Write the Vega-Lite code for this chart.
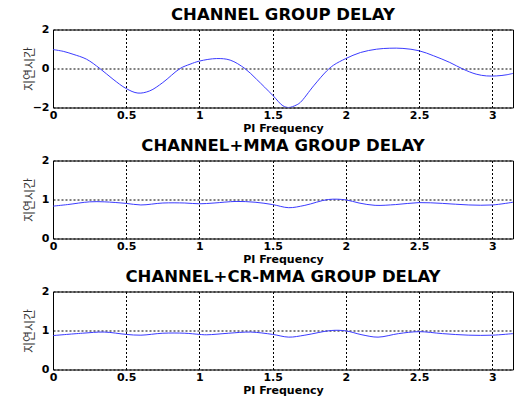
{
  "$schema": "https://vega.github.io/schema/vega-lite/v6.json",
  "background": "white",
  "padding": {"left": 22, "top": 5.5, "right": 0, "bottom": 0},
  "bounds": "flush",
  "spacing": 53,
  "datasets": {
    "ch": [
      {"x": 0, "y": 0.97}, {"x": 0.07, "y": 0.88}, {"x": 0.137, "y": 0.73}, {"x": 0.228, "y": 0.48},
      {"x": 0.32, "y": 0.0}, {"x": 0.41, "y": -0.55}, {"x": 0.5, "y": -1.03}, {"x": 0.58, "y": -1.26},
      {"x": 0.66, "y": -1.15}, {"x": 0.75, "y": -0.72}, {"x": 0.868, "y": 0.0}, {"x": 0.936, "y": 0.22},
      {"x": 1.0, "y": 0.38}, {"x": 1.118, "y": 0.51}, {"x": 1.21, "y": 0.43}, {"x": 1.31, "y": 0.0},
      {"x": 1.39, "y": -0.55}, {"x": 1.5, "y": -1.37}, {"x": 1.57, "y": -1.91}, {"x": 1.61, "y": -2.0},
      {"x": 1.66, "y": -1.88}, {"x": 1.689, "y": -1.74}, {"x": 1.78, "y": -0.89}, {"x": 1.87, "y": -0.12},
      {"x": 1.916, "y": 0.17}, {"x": 2.0, "y": 0.51}, {"x": 2.1, "y": 0.82}, {"x": 2.21, "y": 0.99},
      {"x": 2.3, "y": 1.04}, {"x": 2.39, "y": 1.03}, {"x": 2.5, "y": 0.91}, {"x": 2.6, "y": 0.65},
      {"x": 2.71, "y": 0.31}, {"x": 2.8, "y": -0.03}, {"x": 2.89, "y": -0.29}, {"x": 2.96, "y": -0.38},
      {"x": 3.03, "y": -0.38}, {"x": 3.1, "y": -0.32}, {"x": 3.1416, "y": -0.25}
    ],
    "mma": [
      {"x": 0, "y": 0.83}, {"x": 0.1, "y": 0.87}, {"x": 0.25, "y": 0.94}, {"x": 0.35, "y": 0.94},
      {"x": 0.5, "y": 0.9}, {"x": 0.6, "y": 0.86}, {"x": 0.75, "y": 0.91}, {"x": 0.9, "y": 0.91},
      {"x": 1.0, "y": 0.89}, {"x": 1.1, "y": 0.91}, {"x": 1.25, "y": 0.95}, {"x": 1.38, "y": 0.93},
      {"x": 1.5, "y": 0.87}, {"x": 1.61, "y": 0.79}, {"x": 1.72, "y": 0.85}, {"x": 1.88, "y": 1.0},
      {"x": 2.0, "y": 0.99}, {"x": 2.09, "y": 0.91}, {"x": 2.2, "y": 0.85}, {"x": 2.34, "y": 0.87},
      {"x": 2.5, "y": 0.92}, {"x": 2.66, "y": 0.9}, {"x": 2.84, "y": 0.86}, {"x": 3.0, "y": 0.86},
      {"x": 3.1416, "y": 0.93}
    ],
    "cr": [
      {"x": 0, "y": 0.87}, {"x": 0.2, "y": 0.93}, {"x": 0.35, "y": 0.96}, {"x": 0.5, "y": 0.9},
      {"x": 0.6, "y": 0.88}, {"x": 0.75, "y": 0.93}, {"x": 0.9, "y": 0.93}, {"x": 1.0, "y": 0.9},
      {"x": 1.05, "y": 0.89}, {"x": 1.2, "y": 0.93}, {"x": 1.35, "y": 0.96}, {"x": 1.5, "y": 0.9},
      {"x": 1.61, "y": 0.83}, {"x": 1.72, "y": 0.88}, {"x": 1.9, "y": 1.0}, {"x": 2.0, "y": 0.99},
      {"x": 2.11, "y": 0.89}, {"x": 2.22, "y": 0.83}, {"x": 2.36, "y": 0.92}, {"x": 2.5, "y": 0.97},
      {"x": 2.66, "y": 0.92}, {"x": 2.84, "y": 0.88}, {"x": 3.0, "y": 0.88}, {"x": 3.1416, "y": 0.92}
    ]
  },
  "config": {
    "view": {"stroke": "#000", "strokeWidth": 1},
    "axis": {
      "labelFont": "DejaVu Sans", "labelFontWeight": "bold", "labelFontSize": 11, "labelColor": "#000",
      "ticks": false, "domain": false, "format": "~g",
      "grid": true, "gridColor": "#000", "gridDash": [2, 2], "gridOpacity": 1, "gridWidth": 1
    },
    "axisX": {"labelFlush": false, "labelPadding": 2, "titleFont": "DejaVu Sans", "titleFontWeight": "bold", "titleFontSize": 11, "titleColor": "#000", "titlePadding": 2},
    "axisY": {"labelPadding": 4, "minExtent": 18, "maxExtent": 18, "titleFont": "Noto Sans CJK KR", "titleFontWeight": "normal", "titleFontSize": 12, "titleColor": "#333", "titlePadding": -1},
    "title": {"font": "DejaVu Sans", "fontWeight": "bold", "fontSize": 16.5, "color": "#000", "anchor": "middle", "offset": 0.5}
  },
  "vconcat": [
    {
      "title": "CHANNEL GROUP DELAY",
      "width": 460, "height": 78,
      "data": {"name": "ch"},
      "mark": {"type": "line", "color": "#3b3bff", "strokeWidth": 1, "interpolate": "catmull-rom", "clip": true},
      "encoding": {
        "x": {"field": "x", "type": "quantitative", "scale": {"domain": [0, 3.1416], "nice": false}, "axis": {"title": "PI Frequency", "values": [0, 0.5, 1, 1.5, 2, 2.5, 3]}},
        "y": {"field": "y", "type": "quantitative", "scale": {"domain": [-2, 2], "nice": false}, "axis": {"title": "지연시간", "values": [-2, 0, 2]}}
      }
    },
    {
      "title": "CHANNEL+MMA GROUP DELAY",
      "width": 460, "height": 78,
      "data": {"name": "mma"},
      "mark": {"type": "line", "color": "#3b3bff", "strokeWidth": 1, "interpolate": "catmull-rom", "clip": true},
      "encoding": {
        "x": {"field": "x", "type": "quantitative", "scale": {"domain": [0, 3.1416], "nice": false}, "axis": {"title": "PI Frequency", "values": [0, 0.5, 1, 1.5, 2, 2.5, 3]}},
        "y": {"field": "y", "type": "quantitative", "scale": {"domain": [0, 2], "nice": false}, "axis": {"title": "지연시간", "values": [0, 1, 2]}}
      }
    },
    {
      "title": "CHANNEL+CR-MMA GROUP DELAY",
      "width": 460, "height": 78,
      "data": {"name": "cr"},
      "mark": {"type": "line", "color": "#3b3bff", "strokeWidth": 1, "interpolate": "catmull-rom", "clip": true},
      "encoding": {
        "x": {"field": "x", "type": "quantitative", "scale": {"domain": [0, 3.1416], "nice": false}, "axis": {"title": "PI Frequency", "values": [0, 0.5, 1, 1.5, 2, 2.5, 3]}},
        "y": {"field": "y", "type": "quantitative", "scale": {"domain": [0, 2], "nice": false}, "axis": {"title": "지연시간", "values": [0, 1, 2]}}
      }
    }
  ]
}
